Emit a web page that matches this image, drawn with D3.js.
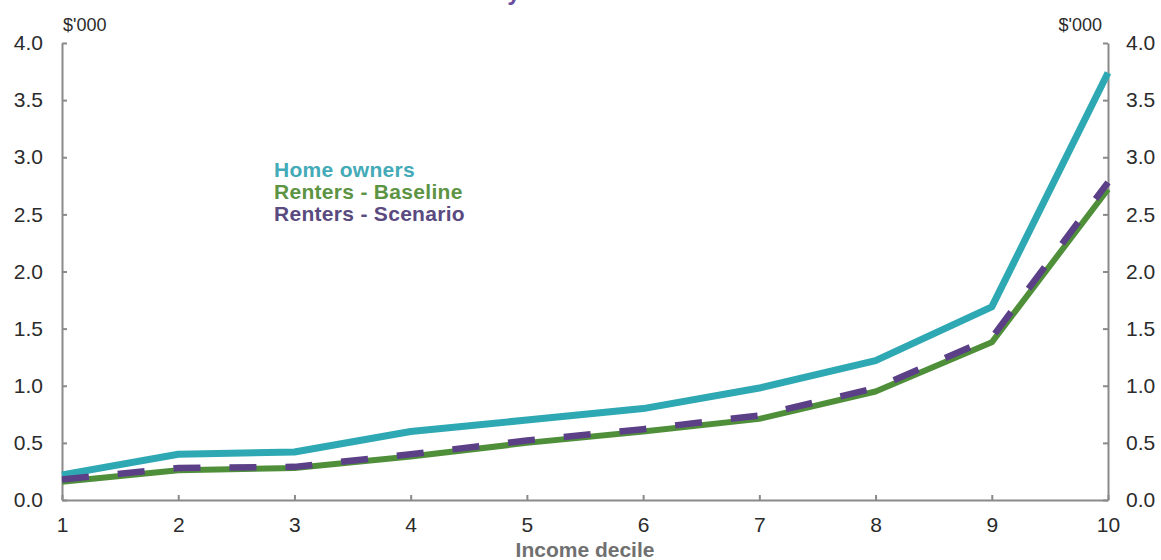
<!DOCTYPE html>
<html>
<head>
<meta charset="utf-8">
<script src="https://cdn.jsdelivr.net/npm/d3@7"></script>
<style>
  html, body { margin: 0; padding: 0; background: #ffffff; }
  svg { display: block; font-family: "Liberation Sans", Arial, sans-serif; }
</style>
</head>
<body>
<svg id="chart" width="1161" height="560"></svg>
<script>
// Income deciles on the x axis
const deciles = [1, 2, 3, 4, 5, 6, 7, 8, 9, 10];

// Values in $'000 for each decile
const homeOwners       = [0.22, 0.40, 0.42, 0.60, 0.70, 0.80, 0.98, 1.22, 1.69, 3.74];
const rentersBaseline  = [0.16, 0.26, 0.28, 0.38, 0.50, 0.60, 0.71, 0.95, 1.38, 2.72];
const rentersScenario  = [0.18, 0.28, 0.29, 0.40, 0.52, 0.62, 0.74, 0.98, 1.42, 2.78];

const yTicks = [0, 0.5, 1.0, 1.5, 2.0, 2.5, 3.0, 3.5, 4.0];
const seriesNames = ["Home owners", "Renters - Baseline", "Renters - Scenario"];

const svg = d3.select("#chart");
const plot = { left: 62, right: 1108, top: 43, bottom: 500 };

const x = d3.scaleLinear().domain([1, 10]).range([plot.left, plot.right]);
const y = d3.scaleLinear().domain([0, 4]).range([plot.bottom, plot.top]);

const axisColour = "#8a8a8a";
const labelColour = "#2b2b2b";

// Heading runs off the top edge; only its lowest strokes show
svg.append("text")
  .attr("x", 686).attr("y", 0)
  .attr("text-anchor", "end")
  .attr("font-size", 24).attr("font-weight", "bold")
  .attr("fill", "#6a4d9e")
  .text("by income decile");

function styleAxis(g) {
  g.select(".domain").attr("stroke", axisColour).attr("stroke-width", 2);
  g.selectAll(".tick line").attr("stroke", axisColour).attr("stroke-width", 2);
  g.selectAll(".tick text").attr("fill", labelColour).attr("font-size", 21)
    .attr("font-family", "Liberation Sans, Arial, sans-serif");
}

// Left axis
svg.append("g")
  .attr("transform", `translate(${plot.left},0)`)
  .call(d3.axisLeft(y).tickValues(yTicks).tickFormat(d3.format(".1f"))
    .tickSize(-5).tickSizeOuter(0).tickPadding(19))
  .call(styleAxis);

// Right axis
svg.append("g")
  .attr("transform", `translate(${plot.right},0)`)
  .call(d3.axisRight(y).tickValues(yTicks).tickFormat(d3.format(".1f"))
    .tickSize(-5).tickSizeOuter(0).tickPadding(18))
  .call(styleAxis);

// Bottom axis
svg.append("g")
  .attr("transform", `translate(0,${plot.bottom})`)
  .call(d3.axisBottom(x).tickValues(deciles).tickFormat(d3.format("d"))
    .tickSize(-5).tickSizeOuter(0).tickPadding(17))
  .call(styleAxis);

// Unit labels
svg.append("text")
  .attr("x", 63).attr("y", 31)
  .attr("font-size", 18).attr("fill", labelColour)
  .text("$'000");
svg.append("text")
  .attr("x", 1102).attr("y", 31)
  .attr("text-anchor", "end")
  .attr("font-size", 18).attr("fill", labelColour)
  .text("$'000");

// X axis title
svg.append("text")
  .attr("x", (plot.left + plot.right) / 2).attr("y", 557)
  .attr("text-anchor", "middle")
  .attr("font-size", 21).attr("font-weight", "bold")
  .attr("fill", "#707070")
  .text("Income decile");

const line = d3.line()
  .x((d, i) => x(deciles[i]))
  .y(d => y(d));

const series = [
  { name: seriesNames[0], values: homeOwners,      colour: "#2ea9b3", width: 7,   dash: null,    text: "#43aab7" },
  { name: seriesNames[1], values: rentersBaseline, colour: "#4f8f3a", width: 6,   dash: null,    text: "#5d9444" },
  { name: seriesNames[2], values: rentersScenario, colour: "#5b3f87", width: 6.5, dash: "27,29", text: "#5a4a80" }
];

svg.append("g")
  .selectAll("path")
  .data(series)
  .join("path")
  .attr("d", d => line(d.values))
  .attr("fill", "none")
  .attr("stroke", d => d.colour)
  .attr("stroke-width", d => d.width)
  .attr("stroke-linejoin", "round")
  .attr("stroke-dasharray", d => d.dash);

// Legend
svg.append("g")
  .selectAll("text")
  .data(series)
  .join("text")
  .attr("x", 274)
  .attr("y", (d, i) => 177 + i * 22)
  .attr("font-size", 21).attr("font-weight", "bold")
  .attr("letter-spacing", 0.3)
  .attr("fill", d => d.text)
  .text(d => d.name);
</script>
</body>
</html>
